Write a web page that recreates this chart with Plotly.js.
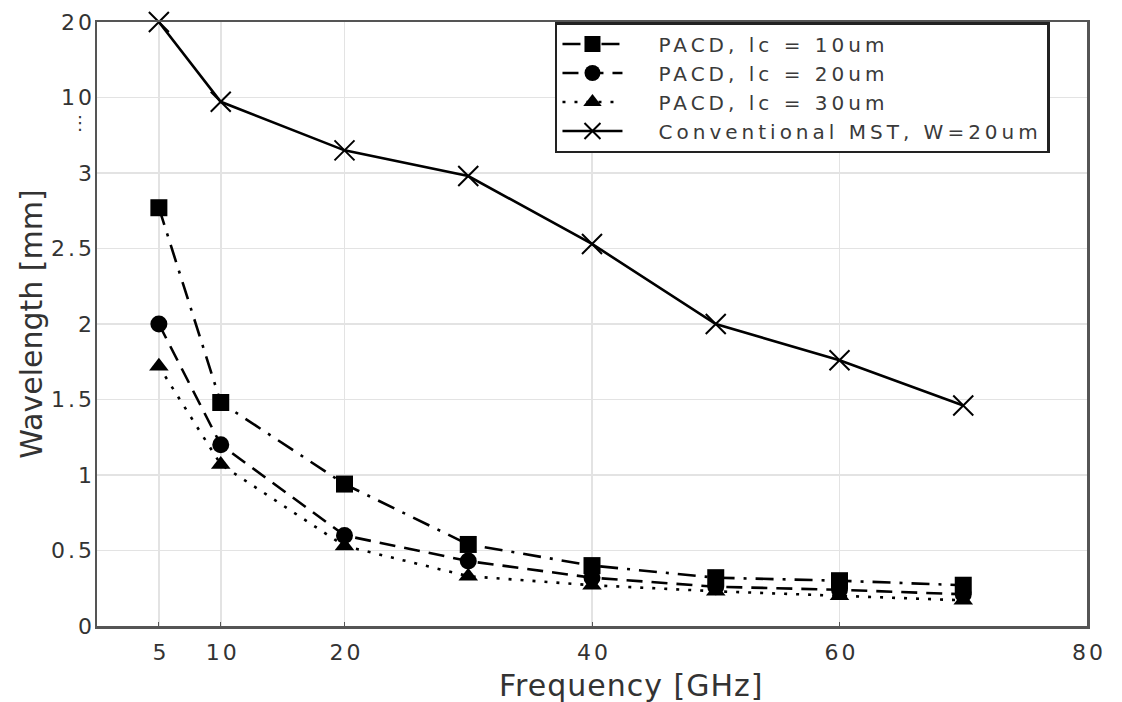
<!DOCTYPE html>
<html>
<head>
<meta charset="utf-8">
<script src="https://cdn.plot.ly/plotly-3.0.1.min.js"></script>
<style>
html,body{margin:0;padding:0;background:#fff;}
#chart{width:1122px;height:702px;}
.legendtext{letter-spacing:4px;}
.xtick text,.ytick text{letter-spacing:3px;}
.annotation-text{letter-spacing:1px;}
</style>
</head>
<body>
<div id="chart"></div>
<script>
// Frequency [GHz]
const freq = [5, 10, 20, 30, 40, 50, 60, 70];
// Wavelength [mm]
const pacd10 = [2.77, 1.48, 0.94, 0.54, 0.40, 0.32, 0.30, 0.27];
const pacd20 = [2.00, 1.20, 0.60, 0.43, 0.32, 0.26, 0.24, 0.21];
const pacd30 = [1.72, 1.07, 0.53, 0.33, 0.27, 0.23, 0.20, 0.17];
const mst20  = [20.0, 9.6, 5.1, 2.98, 2.53, 2.00, 1.76, 1.46];
const seriesNames = ["PACD, lc = 10um", "PACD, lc = 20um", "PACD, lc = 30um", "Conventional MST, W=20um"];
const yTickValues = [0, 0.5, 1, 1.5, 2, 2.5, 3, 10, 20];
const yTickLabels = ["0", "0.5", "1", "1.5", "2", "2.5", "3", "10", "20"];
const xTickValues = [5, 10, 20, 40, 60, 80];
const xTickLabels = ["5", "10", "20", "40", "60", "80"];

// broken y-axis scale: linear 0..3, then 3..10 and 10..20 each squeezed into one half-unit step
function brk(v) {
  if (v <= 3) return v;
  if (v <= 10) return 3 + 0.5 * (v - 3) / 7;
  return 3.5 + 0.5 * (v - 10) / 10;
}

const FONT = "DejaVu Sans, Arial, sans-serif";
const PAD = "\u00a0\u00a0\u00a0";
const mk = (name, ys, symbol, size, dash, open) => ({
  type: "scatter", mode: "lines+markers", name: PAD + name,
  x: freq, y: ys.map(brk), cliponaxis: false,
  line: {color: "#000", width: 2.6, dash: dash},
  marker: open ? {symbol: symbol, size: size, color: "#000", line: {color: "#000", width: 2}}
               : {symbol: symbol, size: size, color: "#000"}
});

const data = [
  mk(seriesNames[0], pacd10, "square", 17, "18px,9px,3px,9px", false),
  mk(seriesNames[1], pacd20, "circle", 17, "16px,9px", false),
  mk(seriesNames[2], pacd30, "triangle-up", 17, "3px,9px", false),
  mk(seriesNames[3], mst20, "x-thin-open", 20, "solid", true)
];

const layout = {
  width: 1122, height: 702,
  margin: {l: 97, r: 35, t: 22, b: 76},
  paper_bgcolor: "#fff", plot_bgcolor: "#fff",
  font: {family: FONT, color: "#333", size: 22},
  showlegend: true,
  legend: {
    x: 0.4626, y: 1, xanchor: "left", yanchor: "top",
    bgcolor: "#fff", bordercolor: "#222", borderwidth: 2.5,
    font: {family: FONT, size: 20, color: "#3a3a3a"},
    itemwidth: 60, tracegroupgap: 0
  },
  xaxis: {
    range: [0, 80], tickmode: "array", tickvals: xTickValues, ticktext: xTickLabels,
    showgrid: true, gridcolor: "#e3e3e3", gridwidth: 1.5,
    showline: true, linecolor: "#555", linewidth: 2.5, mirror: true,
    ticks: "inside", ticklen: 4, tickcolor: "#555",
    ticklabelshift: 2, ticklabelstandoff: 5,
    zeroline: false, tickfont: {family: FONT, size: 22, color: "#333"}
  },
  yaxis: {
    range: [0, 4], tickmode: "array", tickvals: yTickValues.map(brk), ticktext: yTickLabels,
    showgrid: true, gridcolor: "#e3e3e3", gridwidth: 1.5,
    showline: true, linecolor: "#555", linewidth: 2.5, mirror: true,
    ticks: "", zeroline: false, tickfont: {family: FONT, size: 22, color: "#333"},
    ticklabelstandoff: -5,
    title: {text: "Wavelength [mm]", font: {family: FONT, size: 30, color: "#333"}, standoff: 0}
  },
  annotations: [
    {text: "Frequency [GHz]", xref: "paper", yref: "paper", x: 0.539, y: 0, yshift: -59,
     xanchor: "center", yanchor: "middle", showarrow: false,
     font: {family: FONT, size: 30, color: "#333"}},
    {text: "⋮", xref: "paper", yref: "paper", x: 0, xshift: -17, y: 0.833,
     xanchor: "center", yanchor: "middle", showarrow: false,
     font: {family: FONT, size: 18, color: "#333"}}
  ]
};

Plotly.newPlot("chart", data, layout, {displayModeBar: false, staticPlot: true});
</script>
</body>
</html>
